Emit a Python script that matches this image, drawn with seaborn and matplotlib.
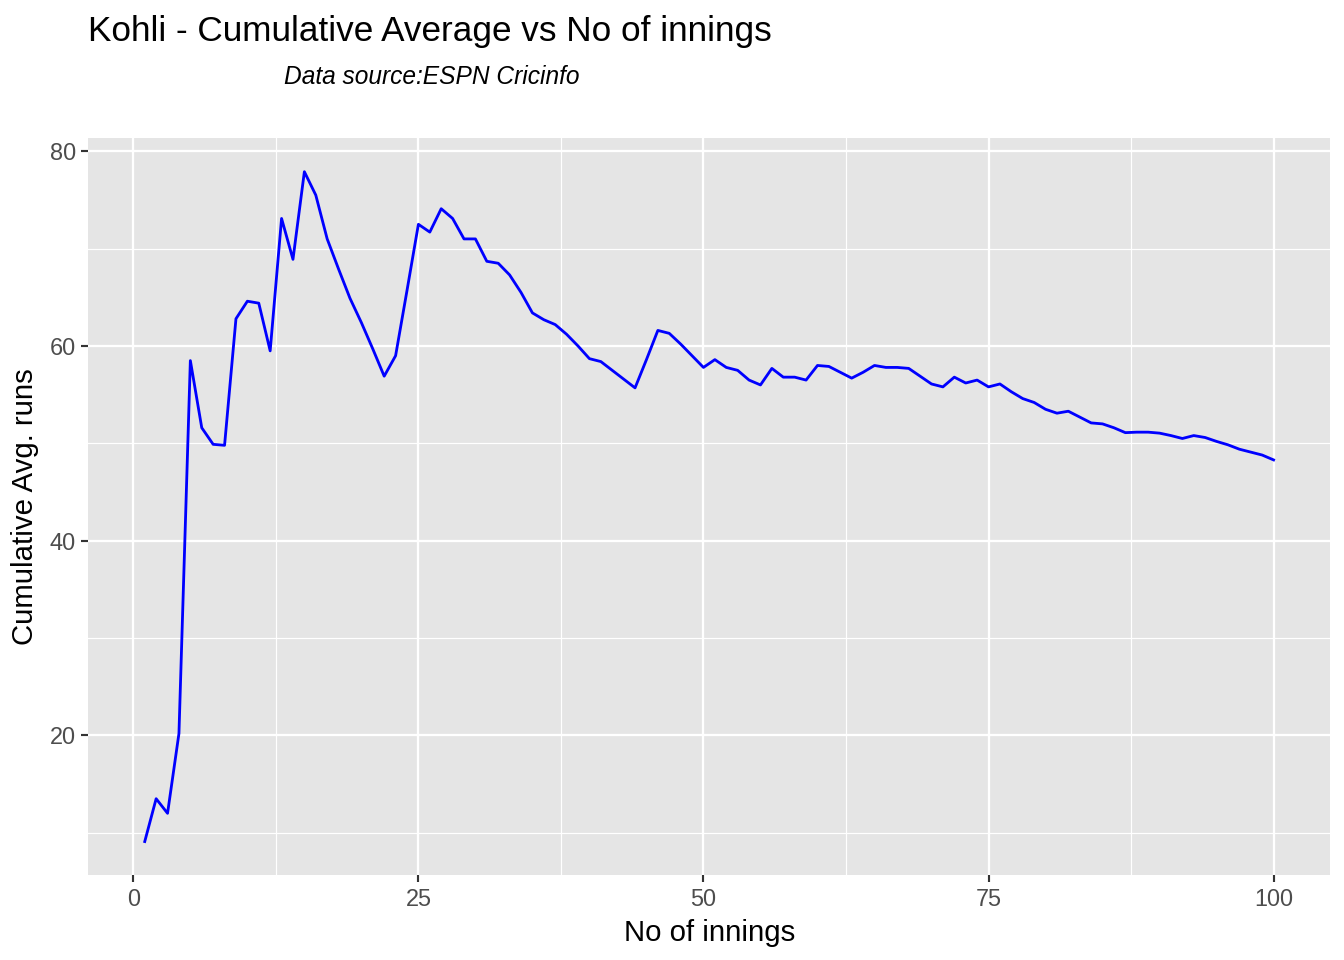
import numpy as np
import pandas as pd
import seaborn as sb
import matplotlib
matplotlib.use("Agg")
import matplotlib.pyplot as plt
from matplotlib.ticker import MultipleLocator

# cumulative batting average after each innings
innings = list(range(1, 101))
cum_avg = [9.1, 13.5, 12.0, 20.2, 58.5, 51.6, 49.9, 49.8, 62.8, 64.6,
           64.4, 59.5, 73.1, 68.9, 77.9, 75.5, 71.0, 67.9, 64.9, 62.4,
           59.7, 56.9, 59.0, 65.7, 72.5, 71.7, 74.1, 73.1, 71.0, 71.0,
           68.7, 68.5, 67.3, 65.5, 63.4, 62.7, 62.2, 61.2, 60.0, 58.7,
           58.4, 57.5, 56.6, 55.7, 58.6, 61.6, 61.3, 60.2, 59.0, 57.8,
           58.6, 57.8, 57.5, 56.5, 56.0, 57.7, 56.8, 56.8, 56.5, 58.0,
           57.9, 57.3, 56.7, 57.3, 58.0, 57.8, 57.8, 57.7, 56.9, 56.1,
           55.8, 56.8, 56.2, 56.5, 55.8, 56.1, 55.3, 54.6, 54.2, 53.5,
           53.1, 53.3, 52.7, 52.1, 52.0, 51.6, 51.1, 51.15, 51.15, 51.05,
           50.8, 50.5, 50.8, 50.6, 50.2, 49.85, 49.4, 49.1, 48.8, 48.3]
x_ticks = [0, 25, 50, 75, 100]
y_ticks = [20, 40, 60, 80]

df = pd.DataFrame({"innings": innings, "avg": cum_avg})

plt.rcParams["font.family"] = ["Liberation Sans", "DejaVu Sans"]

fig = plt.figure(figsize=(7, 5), dpi=192)
ax = fig.add_axes([0.0657, 0.0885, 0.9896 - 0.0657, 0.856 - 0.0885])
ax.set_facecolor("#E5E5E5")

sb.lineplot(data=df, x="innings", y="avg", color="blue", linewidth=1.05, ax=ax)

ax.margins(x=0.05, y=0.05)
ax.xaxis.set_major_locator(MultipleLocator(25))
ax.xaxis.set_minor_locator(MultipleLocator(12.5))
ax.yaxis.set_major_locator(MultipleLocator(20))
ax.yaxis.set_minor_locator(MultipleLocator(10))
ax.set_xticks(x_ticks)
ax.set_yticks(y_ticks)
ax.grid(which="major", color="white", linewidth=0.85)
ax.grid(which="minor", color="white", linewidth=0.45)
ax.set_axisbelow(True)
for s in ax.spines.values():
    s.set_visible(False)

ax.tick_params(which="major", length=2.75, width=0.8, color="#333333",
               labelsize=8.8, labelcolor="#4D4D4D", pad=2)
ax.tick_params(which="minor", length=0)

ax.set_xlabel("No of innings", fontsize=11, color="black", labelpad=3)
ax.set_ylabel("Cumulative Avg. runs", fontsize=11, color="black", labelpad=4)

fig.text(88 / 1344, 1 - 31 / 960, "Kohli - Cumulative Average vs No of innings",
         fontsize=13.2, ha="left", va="center")
fig.text(284 / 1344, 1 - 77 / 960, "Data source:ESPN Cricinfo",
         fontsize=9.2, style="italic", ha="left", va="center")

fig.savefig("out.png", dpi=192)
